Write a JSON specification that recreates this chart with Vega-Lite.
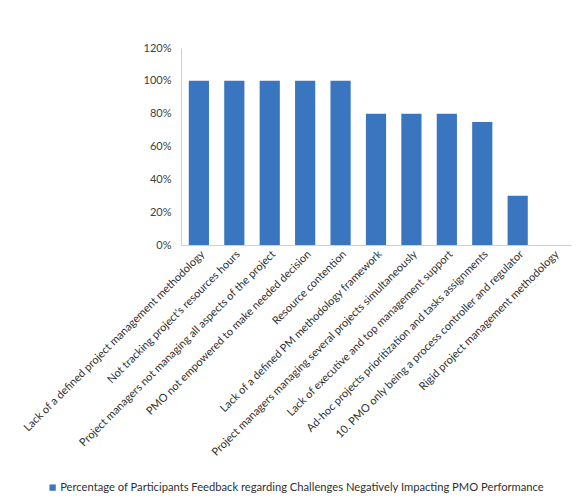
{
  "$schema": "https://vega.github.io/schema/vega-lite/v6.json",
  "autosize": "none",
  "width": 390,
  "height": 197,
  "padding": {"left": 181, "top": 48, "right": 7, "bottom": 255},
  "background": "white",
  "config": {
    "view": {"stroke": null},
    "font": "Lato",
    "axis": {"labelFont": "Lato", "labelColor": "#404040", "grid": false, "ticks": false, "domainColor": "#D0D0D0"}
  },
  "data": {
    "values": [
      {"challenge": "Lack of a defined project management methodology", "pct": 1.0, "series": "Percentage of Participants Feedback regarding Challenges Negatively Impacting PMO Performance"},
      {"challenge": "Not tracking project's resources hours", "pct": 1.0, "series": "Percentage of Participants Feedback regarding Challenges Negatively Impacting PMO Performance"},
      {"challenge": "Project managers not managing all aspects of the project", "pct": 1.0, "series": "Percentage of Participants Feedback regarding Challenges Negatively Impacting PMO Performance"},
      {"challenge": "PMO  not empowered to make needed decision", "pct": 1.0, "series": "Percentage of Participants Feedback regarding Challenges Negatively Impacting PMO Performance"},
      {"challenge": "Resource contention", "pct": 1.0, "series": "Percentage of Participants Feedback regarding Challenges Negatively Impacting PMO Performance"},
      {"challenge": "Lack of a defined PM methodology framework", "pct": 0.8, "series": "Percentage of Participants Feedback regarding Challenges Negatively Impacting PMO Performance"},
      {"challenge": "Project managers managing several projects simultaneously", "pct": 0.8, "series": "Percentage of Participants Feedback regarding Challenges Negatively Impacting PMO Performance"},
      {"challenge": "Lack of executive and top management support", "pct": 0.8, "series": "Percentage of Participants Feedback regarding Challenges Negatively Impacting PMO Performance"},
      {"challenge": "Ad-hoc projects prioritization and tasks assignments", "pct": 0.75, "series": "Percentage of Participants Feedback regarding Challenges Negatively Impacting PMO Performance"},
      {"challenge": "10. PMO only being a process controller and regulator", "pct": 0.3, "series": "Percentage of Participants Feedback regarding Challenges Negatively Impacting PMO Performance"},
      {"challenge": "Rigid project management methodology", "pct": 0.0, "series": "Percentage of Participants Feedback regarding Challenges Negatively Impacting PMO Performance"}
    ]
  },
  "mark": {
    "type": "bar",
    "color": {
      "gradient": "linear", "x1": 0, "y1": 0, "x2": 1, "y2": 0,
      "stops": [
        {"offset": 0, "color": "#2A5A96"},
        {"offset": 0.3, "color": "#4687D6"},
        {"offset": 0.7, "color": "#3C79C4"},
        {"offset": 1, "color": "#24508A"}
      ]
    }
  },
  "encoding": {
    "x": {
      "field": "challenge", "type": "nominal", "sort": null,
      "scale": {"paddingInner": 0.43, "paddingOuter": 0.22},
      "axis": {"title": null, "labelAngle": -45, "labelFontSize": 11, "labelLimit": 400, "labelPadding": 3, "labelColor": "#303030"}
    },
    "y": {
      "field": "pct", "type": "quantitative",
      "scale": {"domain": [0, 1.2], "nice": false},
      "axis": {"title": null, "format": ".0%", "values": [0, 0.2, 0.4, 0.6, 0.8, 1.0, 1.2], "labelFontSize": 11, "labelPadding": 10}
    },
    "fill": {
      "field": "series", "type": "nominal",
      "scale": {"range": ["#3A76C0"]},
      "legend": {
        "title": null, "orient": "none", "legendX": -134, "legendY": 434,
        "symbolType": "square", "symbolSize": 40, "labelFontSize": 11.2, "labelLimit": 600, "labelColor": "#303030", "symbolOffset": 0, "labelOffset": 2
      }
    }
  }
}
